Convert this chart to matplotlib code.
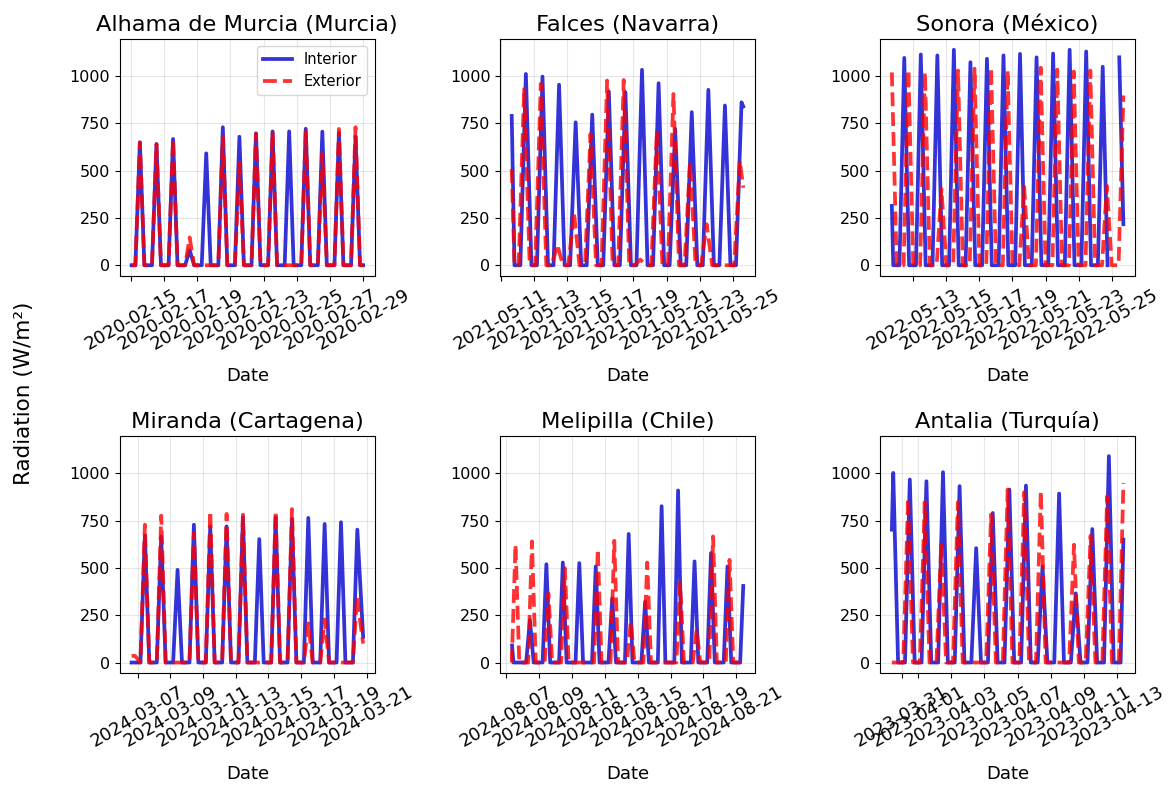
import numpy as np
import pandas as pd
import matplotlib.pyplot as plt

# Daily peak radiation (W/m²) for the interior and exterior sensors.
# Each site: first full day, hour of the daily peak, half-width of the
# daylight bump (h), peak list, plus explicit readings at the ends.
sites = ["Alhama de Murcia (Murcia)", "Falces (Navarra)", "Sonora (México)",
         "Miranda (Cartagena)", "Melipilla (Chile)", "Antalia (Turquía)"]

alhama_int = [650, 641, 668, 80, 592, 730, 680, 698, 708, 708, 722, 707, 700, 680]
alhama_ext = [650, 641, 668, 147, 0, 680, 540, 695, 705, 0, 715, 590, 721, 730]

falces_int = [1012, 998, 955, 756, 797, 919, 915, 1034, 963, 721, 810, 928, 845]
falces_ext = [940, 960, 110, 280, 694, 977, 980, 30, 712, 906, 544, 217, 0]

sonora_int = [1097, 1115, 1110, 1140, 1074, 1092, 1110, 1118, 1100, 1120, 1140, 1131, 1050]
sonora_ext = [1033, 1021, 403, 1030, 1040, 1045, 1030, 415, 1045, 1035, 1025, 1030, 420]

miranda_int = [671, 667, 490, 729, 720, 720, 768, 653, 765, 759, 765, 733, 742]
miranda_ext = [729, 777, 0, 685, 800, 786, 782, 0, 800, 812, 207, 228, 0]

melipilla_int = [225, 520, 529, 526, 508, 340, 680, 322, 827, 910, 535, 579, 508]
melipilla_ext = [623, 641, 366, 499, 0, 600, 644, 216, 529, 0, 419, 172, 667, 543]

antalia_int = [968, 959, 1007, 933, 605, 791, 915, 936, 508, 894, 366, 706, 1092]
antalia_ext = [871, 848, 632, 848, 0, 782, 915, 901, 906, 0, 623, 671, 880]

nan = np.nan

# (first day, peak hour, half width, peaks, head readings, tail readings)
interior = [
    ("2020-02-15", 13, 6.5, alhama_int,
     [("2020-02-15 01:00", 0)], [("2020-02-29 00:00", 0)]),
    ("2021-05-12", 12.5, 8, falces_int,
     [("2021-05-11 16:00", 790), ("2021-05-11 20:00", 0)],
     [("2021-05-25 04:30", 0), ("2021-05-25 12:30", 862), ("2021-05-25 15:00", 840)]),
    ("2022-05-12", 11, 7, sonora_int,
     [("2022-05-11 17:00", 314), ("2022-05-11 19:00", 0)],
     [("2022-05-24 20:00", nan), ("2022-05-25 11:00", 1100), ("2022-05-25 17:00", 217)]),
    ("2024-03-07", 10.5, 6.5, miranda_int,
     [("2024-03-06 15:00", 0)],
     [("2024-03-20 04:00", 0), ("2024-03-20 10:30", 703), ("2024-03-20 19:00", 136)]),
    ("2024-08-08", 11, 5.5, melipilla_int,
     [("2024-08-07 09:00", 90), ("2024-08-07 11:00", 0)],
     [("2024-08-21 05:30", 0), ("2024-08-21 10:00", 405)]),
    ("2023-03-31", 12, 7, antalia_int,
     [("2023-03-30 10:00", 703), ("2023-03-30 12:00", 1003), ("2023-03-30 19:00", 0)],
     [("2023-04-13 05:00", 0), ("2023-04-13 09:00", 650)]),
]

exterior = [
    ("2020-02-15", 13, 6.5, alhama_ext,
     [("2020-02-15 01:00", 0)], [("2020-02-29 00:00", 0)]),
    ("2021-05-12", 10, 8, falces_ext,
     [("2021-05-11 16:00", 509), ("2021-05-11 20:00", 0)],
     [("2021-05-25 02:00", 0), ("2021-05-25 10:00", 553), ("2021-05-25 15:00", 410)]),
    ("2022-05-12", 17, 7, sonora_ext,
     [("2022-05-11 17:00", 1020), ("2022-05-12 00:00", 0)],
     [("2022-05-25 10:00", 0), ("2022-05-25 17:00", 898)]),
    ("2024-03-07", 10.5, 6.5, miranda_ext,
     [("2024-03-06 15:00", 35), ("2024-03-06 20:00", 35)],
     [("2024-03-20 04:00", 0), ("2024-03-20 10:00", 349), ("2024-03-20 19:00", 100)]),
    ("2024-08-07", 14, 5.5, melipilla_ext,
     [], [("2024-08-21 06:00", 0)]),
    ("2023-03-31", 9.5, 7, antalia_ext,
     [("2023-03-30 10:00", 0)],
     [("2023-04-13 02:30", 0), ("2023-04-13 09:00", 950)]),
]


def day_series(first_day, peak_hour, half, peaks, head, tail):
    times = [pd.Timestamp(t) for t, _ in head]
    vals = [v for _, v in head]
    day0 = pd.Timestamp(first_day)
    for i, p in enumerate(peaks):
        noon = day0 + pd.Timedelta(days=i, hours=peak_hour)
        times += [noon - pd.Timedelta(hours=half), noon, noon + pd.Timedelta(hours=half)]
        vals += [0, p, 0]
    times += [pd.Timestamp(t) for t, _ in tail]
    vals += [v for _, v in tail]
    return pd.Series(vals, index=pd.DatetimeIndex(times), dtype=float)


fig, axes = plt.subplots(2, 3, figsize=(11.72, 7.86), dpi=100)
fig.subplots_adjust(left=0.1024, right=0.9684, bottom=0.1434, top=0.9504,
                    wspace=0.4926, hspace=0.676)

for ax, name, ins, out in zip(axes.flat, sites, interior, exterior):
    s_in = day_series(*ins)
    s_out = day_series(*out)
    ax.plot(s_in.index, s_in.values, color='mediumblue', lw=2.7, alpha=0.8, label='Interior')
    ax.plot(s_out.index, s_out.values, color='red', lw=2.7, ls='--', alpha=0.8, label='Exterior')
    ax.set_title(name, fontsize=16.2)
    ax.set_xlabel('Date', fontsize=13, labelpad=10)
    ax.set_ylim(-57, 1197)
    ax.set_yticks([0, 250, 500, 750, 1000])
    ax.tick_params(axis='y', labelsize=11.5)
    ax.tick_params(axis='x', labelsize=13, rotation=30)
    ax.grid(True, alpha=0.3)

axes[0, 0].legend(loc='upper right', fontsize=10.5)
fig.supylabel('Radiation (W/m²)', x=0.012, fontsize=15.5)

plt.savefig('out.png')
plt.close()
